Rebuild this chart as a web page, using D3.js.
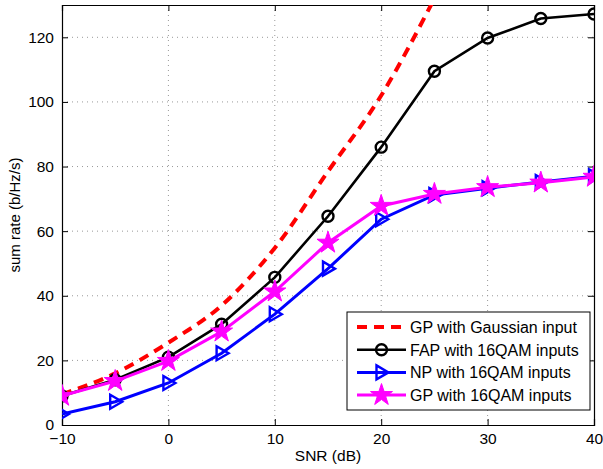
<!DOCTYPE html>
<html lang="en">
<head>
<meta charset="UTF-8">
<title>Sum rate vs SNR</title>
<script src="https://d3js.org/d3.v7.min.js"></script>
<style>
  body { margin: 0; background: #fff; }
  text { font-family: "Liberation Sans", Arial, sans-serif; fill: #000; }
  .grid line { stroke: #999; stroke-dasharray: 1,4; stroke-width: 1; }
</style>
</head>
<body>
<div id="chart"></div>
<script>
// data
const snr = [-10, -5, 0, 5, 10, 15, 20, 25, 30, 35, 40];
const gpGauss = [9.5, 16, 25.5, 37, 54.8, 78.5, 102, 132];
const fap16 = [9, 14, 21, 31.2, 45.7, 64.6, 86, 109.5, 119.8, 125.8, 127.2];
const np16 = [3.4, 7.2, 13, 22.2, 34.3, 48.4, 63.7, 71.2, 73.3, 75.2, 77];
const gp16 = [9, 13.6, 19.8, 28.9, 41.3, 56.4, 67.8, 71.5, 73.6, 75, 76.8];
const xTicks = [-10, 0, 10, 20, 30, 40];
const yTicks = [0, 20, 40, 60, 80, 100, 120];
const legendLabels = ["GP with Gaussian input", "FAP with 16QAM inputs", "NP with 16QAM inputs", "GP with 16QAM inputs"];

const W = 603, H = 469;
const m = {left: 62, right: 9, top: 5, bottom: 44};
const iw = W - m.left - m.right, ih = H - m.top - m.bottom;

const svg = d3.select("#chart").append("svg")
  .attr("width", W).attr("height", H);

const x = d3.scaleLinear().domain([-10, 40]).range([0, iw]);
const y = d3.scaleLinear().domain([0, 130]).range([ih, 0]);

const g = svg.append("g").attr("transform", `translate(${m.left},${m.top})`);

svg.append("defs").append("clipPath").attr("id", "clip")
  .append("rect").attr("width", iw).attr("height", ih);

// grid
g.append("g").attr("class", "grid")
  .selectAll("line").data(xTicks.slice(1, -1)).enter().append("line")
  .attr("x1", d => x(d)).attr("x2", d => x(d)).attr("y1", 0).attr("y2", ih);
g.append("g").attr("class", "grid")
  .selectAll("line").data(yTicks.slice(1)).enter().append("line")
  .attr("y1", d => y(d)).attr("y2", d => y(d)).attr("x1", 0).attr("x2", iw);

// axes (box with inward ticks)
const fmt = d => d < 0 ? "\u2212" + Math.abs(d) : d;
const ax = [
  [d3.axisBottom(x).tickValues(xTicks).tickSize(-6).tickPadding(8).tickFormat(fmt), `translate(0,${ih})`],
  [d3.axisTop(x).tickValues(xTicks).tickSize(-6).tickFormat(""), "translate(0,0)"],
  [d3.axisLeft(y).tickValues(yTicks).tickSize(-6).tickPadding(8), "translate(0,0)"],
  [d3.axisRight(y).tickValues(yTicks).tickSize(-6).tickFormat(""), `translate(${iw},0)`]
];
ax.forEach(([a, t]) => {
  const s = g.append("g").attr("transform", t).call(a);
  s.select(".domain").attr("stroke", "#000").attr("stroke-width", 1.2);
  s.selectAll(".tick line").attr("stroke", "#000");
  s.selectAll("text").style("font-size", "15.5px").attr("fill", "#000")
    .style("font-family", "Liberation Sans, Arial, sans-serif");
});

// series
const series = [
  {name: legendLabels[0], vals: gpGauss, color: "#ff0000", width: 4, dash: "10,7", marker: null},
  {name: legendLabels[1], vals: fap16, color: "#000000", width: 2.6, dash: null, marker: "circle"},
  {name: legendLabels[2], vals: np16, color: "#0000ff", width: 3, dash: null, marker: "tri"},
  {name: legendLabels[3], vals: gp16, color: "#ff00ff", width: 3, dash: null, marker: "star"}
];

const plot = g.append("g").attr("clip-path", "url(#clip)");

function drawMarker(sel, type, color) {
  if (type === "circle") {
    sel.append("circle").attr("r", 5.5).attr("fill", "none")
      .attr("stroke", color).attr("stroke-width", 2.4);
  } else if (type === "tri") {
    sel.append("path").attr("d", "M-5,-7L7,0L-5,7Z").attr("fill", "none")
      .attr("stroke", color).attr("stroke-width", 2.4);
  } else if (type === "star") {
    sel.append("path").attr("d", d3.symbol().type(d3.symbolStar).size(150)())
      .attr("fill", color).attr("stroke", color).attr("stroke-width", 1);
  }
}

series.forEach(s => {
  const pts = s.vals.map((v, i) => [snr[i], v]);
  const line = d3.line().x(d => x(d[0])).y(d => y(d[1]))
    .curve(s.marker ? d3.curveLinear : d3.curveMonotoneX);
  plot.append("path").datum(pts)
    .attr("d", line).attr("fill", "none")
    .attr("stroke", s.color).attr("stroke-width", s.width)
    .attr("stroke-dasharray", s.dash);
  if (s.marker) {
    plot.selectAll(null).data(pts).enter().append("g")
      .attr("transform", d => `translate(${x(d[0])},${y(d[1])})`)
      .each(function () { drawMarker(d3.select(this), s.marker, s.color); });
  }
});

// legend
const lg = g.append("g").attr("transform", `translate(${iw - 247},${ih - 113})`);
lg.append("rect").attr("width", 243).attr("height", 98)
  .attr("fill", "#fff").attr("stroke", "#000").attr("stroke-width", 1);
series.forEach((s, i) => {
  const row = lg.append("g").attr("transform", `translate(0,${15 + i * 22.7})`);
  row.append("line").attr("x1", 10).attr("x2", 59)
    .attr("stroke", s.color).attr("stroke-width", s.width)
    .attr("stroke-dasharray", s.dash);
  if (s.marker) {
    const mk = row.append("g").attr("transform", "translate(34.5,0)");
    drawMarker(mk, s.marker, s.color);
  }
  row.append("text").attr("x", 63).attr("y", 6)
    .style("font-size", "16px").text(s.name);
});

// axis labels
svg.append("text").attr("x", m.left + iw / 2).attr("y", 461)
  .attr("text-anchor", "middle").style("font-size", "15.5px").text("SNR (dB)");
svg.append("text").attr("transform", `translate(20,${m.top + ih / 2}) rotate(-90)`)
  .attr("text-anchor", "middle").style("font-size", "15px").text("sum rate (b/Hz/s)");
</script>
</body>
</html>
